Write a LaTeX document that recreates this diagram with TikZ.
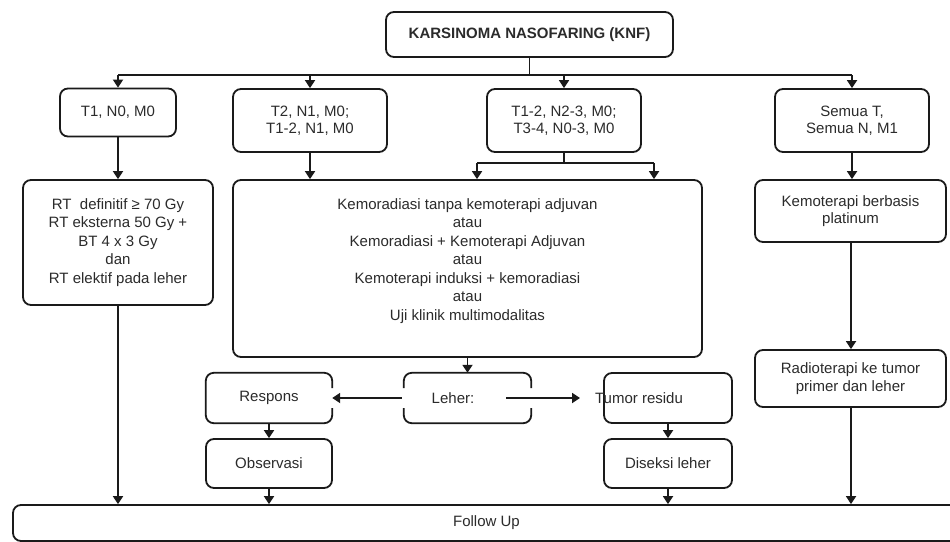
\documentclass[tikz,border=0pt]{standalone}
\usepackage{fontspec}
\setmainfont{Liberation Sans}
\usetikzlibrary{arrows.meta,calc}
\definecolor{ink}{HTML}{1A1A1A}
\definecolor{txt}{HTML}{2B2B2B}
\begin{document}
\begin{tikzpicture}[x=1pt,y=-1pt,
  fnt/.style={font=\fontsize{15}{18.5}\selectfont},
  box/.style={draw=ink, line width=1.8pt, rounded corners=8pt, align=center, inner sep=0pt, text=txt, fnt},
  plain/.style={inner sep=0pt, align=center, text=txt, fnt},
  line/.style={draw=ink, line width=1.8pt},
  arr/.style={line, -{Triangle[length=8pt,width=10pt]}}]
\useasboundingbox (0,0) rectangle (950,541);
\clip (0,0) rectangle (950,541);
\fill[white] (0,0) rectangle (950,541);

% nodes
\node[box, minimum width=287pt, minimum height=45pt, font=\fontsize{15}{18}\selectfont\bfseries] (knf) at (529.5,34.5) {KARSINOMA NASOFARING (KNF)};
\node[box, minimum width=116pt, minimum height=48pt] (t1) at (118,112.5) {T1, N0, M0};
\node[box, minimum width=154pt, minimum height=63pt, font=\fontsize{15}{16.5}\selectfont] (t2) at (310,120.5) {T2, N1, M0;\\T1-2, N1, M0};
\node[box, minimum width=154pt, minimum height=63pt, font=\fontsize{15}{16.5}\selectfont] (t3) at (564,120.5) {T1-2, N2-3, M0;\\T3-4, N0-3, M0};
\node[box, minimum width=154pt, minimum height=63pt, font=\fontsize{15}{16.5}\selectfont] (t4) at (852,120.5) {Semua T,\\Semua N, M1};

\node[box, minimum width=190pt, minimum height=125pt] (rt) at (118,242.5) {RT\ \ definitif ≥ 70 Gy\\RT eksterna 50 Gy +\\BT 4 x 3 Gy\\dan\\RT elektif pada leher};
\node[box, minimum width=469pt, minimum height=177pt] (big) at (467.5,268.5) {};
\node[plain] (bigtxt) at (467.5,261) {Kemoradiasi tanpa kemoterapi adjuvan\\atau\\Kemoradiasi + Kemoterapi Adjuvan\\atau\\Kemoterapi induksi + kemoradiasi\\atau\\Uji klinik multimodalitas};
\node[box, minimum width=191pt, minimum height=62pt, font=\fontsize{15}{17.5}\selectfont] (kemo) at (850.5,211) {Kemoterapi berbasis\\platinum};
\node[box, minimum width=191pt, minimum height=57pt, font=\fontsize{15}{18.5}\selectfont] (radio) at (850.5,378.5) {Radioterapi ke tumor\\primer dan leher};

% middle row with gapped outlines
\node[plain, minimum width=126pt, minimum height=50pt] (respons) at (269,398) {Respons};
\draw[line, rounded corners=8pt] ([yshift=-10pt]respons.east) |- (respons.south) -| (respons.west) |- (respons.north) -| ([yshift=10pt]respons.east);
\node[plain, minimum width=127pt, minimum height=50pt] (leher) at (467.5,398) {};
\node[plain] (lehertxt) at (453,398) {Leher:};
\draw[line, rounded corners=8pt] ([yshift=10pt]leher.west) |- (leher.north) -| ([yshift=10pt]leher.east);
\draw[line, rounded corners=8pt] ([yshift=-10pt]leher.west) |- (leher.south) -| ([yshift=-10pt]leher.east);
\node[box, minimum width=128pt, minimum height=50pt] (tumor) at (668,398) {};
\node[plain] (tumortxt) at (639,398) {Tumor residu};

\node[box, minimum width=126pt, minimum height=49pt] (obs) at (269,463.5) {Observasi};
\node[box, minimum width=128pt, minimum height=49pt] (dis) at (668,463.5) {Diseksi leher};

\node[box, minimum width=947pt, minimum height=36pt] (follow) at (486.5,523) {Follow Up};

% connectors
\coordinate (jtop) at (529.5,75);
\draw[line] (knf.south) -- (jtop);
\draw[line] (t1.north |- jtop) -- (t4.north |- jtop);
\foreach \n in {t1,t2,t3,t4} \draw[arr] (\n.north |- jtop) -- (\n.north);

\draw[arr] (t1.south) -- (rt.north);
\draw[arr] (t2.south) -- (t2.south |- big.north);
\coordinate (jmid) at (564,163);
\coordinate (jl) at (477,163);
\coordinate (jr) at (654,163);
\draw[line] (t3.south) -- (jmid);
\draw[line] (jl) -- (jr);
\draw[arr] (jl) -- (jl |- big.north);
\draw[arr] (jr) -- (jr |- big.north);
\draw[arr] (t4.south) -- (t4.south |- kemo.north);
\draw[arr] (kemo.south -| 851,0) -- (radio.north -| 851,0);

\draw[arr] (big.south) -- (leher.north);
\draw[arr] ([xshift=-2pt]leher.west) -- (respons.east);
\coordinate (la) at (506,398);
\coordinate (lb) at (580,398);
\draw[arr] (la) -- (lb);
\draw[arr] (respons.south) -- (obs.north);
\draw[arr] (tumor.south) -- (dis.north);

\draw[arr] (rt.south) -- (rt.south |- follow.north);
\draw[arr] (obs.south) -- (follow.north -| obs.south);
\draw[arr] (dis.south) -- (follow.north -| dis.south);
\draw[arr] (radio.south -| 851,0) -- (follow.north -| 851,0);
\end{tikzpicture}
\end{document}
